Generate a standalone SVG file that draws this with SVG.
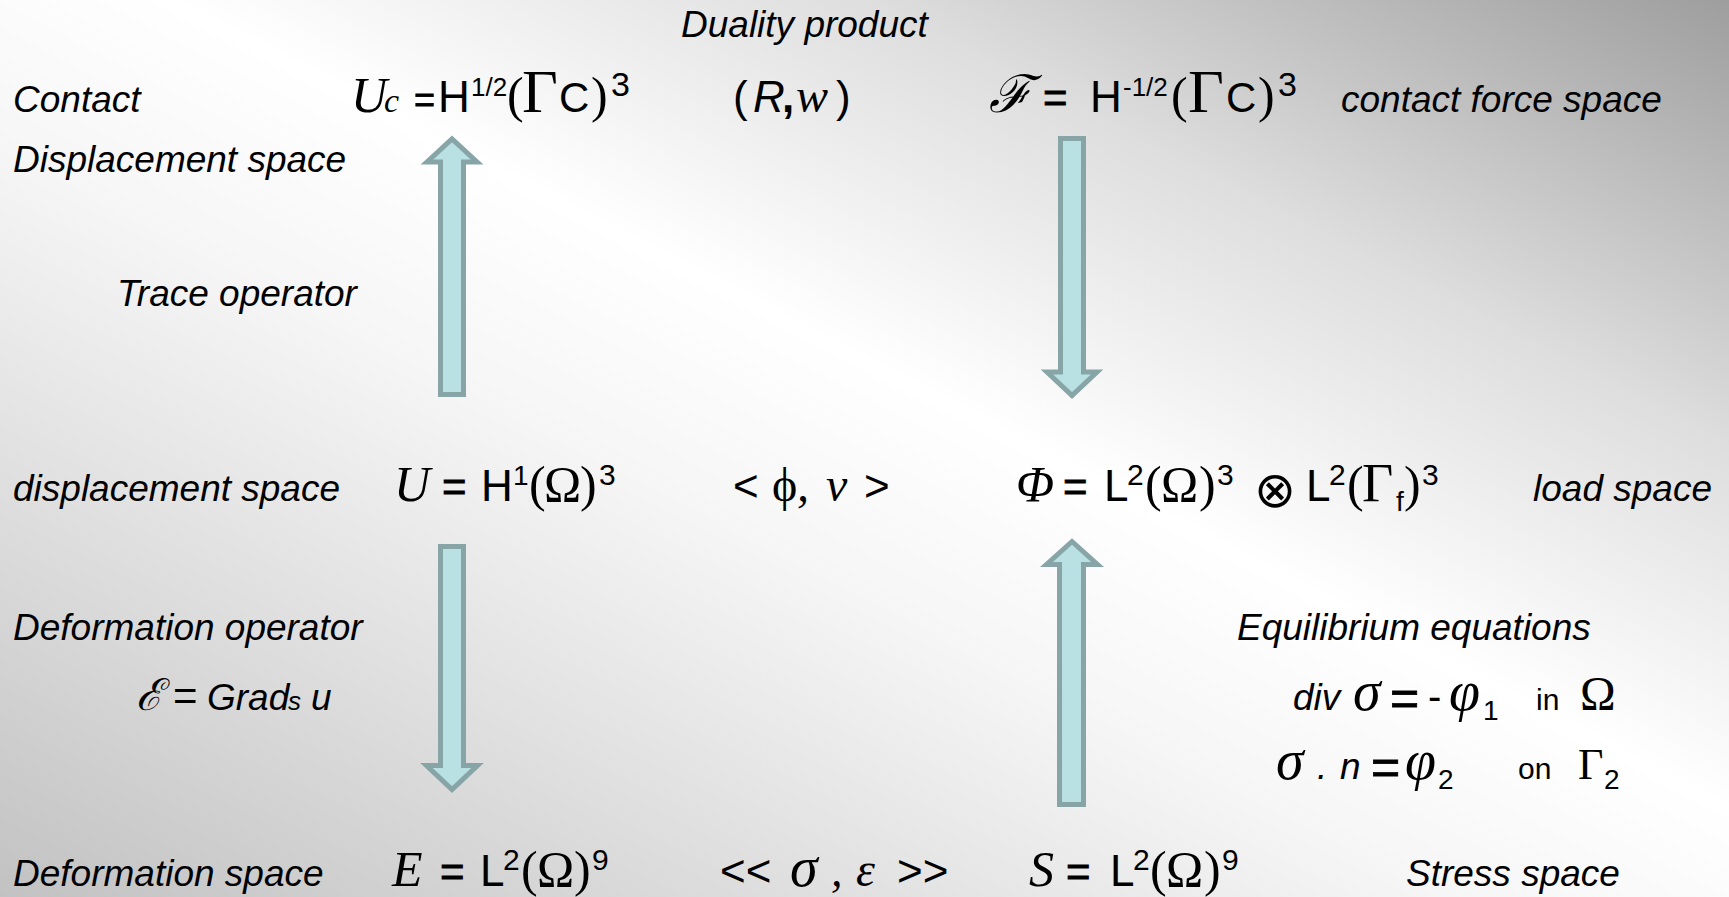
<svg xmlns="http://www.w3.org/2000/svg" width="1729" height="897" viewBox="0 0 1729 897">
<defs>
<linearGradient id="bg" x1="0" y1="1" x2="1" y2="0">
<stop offset="0" stop-color="#c2c2c2"/>
<stop offset="0.42" stop-color="#f6f6f6"/>
<stop offset="0.55" stop-color="#ffffff"/>
<stop offset="0.75" stop-color="#dedede"/>
<stop offset="1" stop-color="#9e9e9e"/>
</linearGradient>
</defs>
<style>
text{fill:#000}
.lbl{font-family:"Liberation Sans",Arial,sans-serif;font-style:italic;font-size:37px}
.ar{font-family:"Liberation Sans",Arial,sans-serif;font-style:normal;font-size:44px}
.eq{font-family:"Liberation Sans",Arial,sans-serif;font-style:normal;font-size:42px;stroke:#000;stroke-width:0.8}
.ti{font-family:"Liberation Serif","Times New Roman",serif;font-style:italic;font-size:50px}
.tr{font-family:"Liberation Serif","Times New Roman",serif;font-style:normal;font-size:50px}
.sup{font-family:"Liberation Sans",Arial,sans-serif;font-style:normal;font-size:30px}
.scr{font-family:"DejaVu Serif","Liberation Serif",serif;font-style:italic;font-size:48px}
.arrow{fill:#b9e0e3;stroke:#87a5a7;stroke-width:5;stroke-linejoin:miter}
</style>
<rect x="0" y="0" width="1729" height="897" fill="url(#bg)"/>

<g id="connectors">
<path class="arrow" d="M440.5,394.5 L463.5,394.5 L463.5,162 L477,162 L452,139 L427,162 L440.5,162 Z"/>
<path class="arrow" d="M1060.5,138.5 L1083.5,138.5 L1083.5,372 L1097,372 L1072,395.5 L1047,372 L1060.5,372 Z"/>
<path class="arrow" d="M440.5,546.5 L463.5,546.5 L463.5,765.5 L477.5,765.5 L452,789.5 L426.5,765.5 L440.5,765.5 Z"/>
<path class="arrow" d="M1059.5,804.5 L1083.5,804.5 L1083.5,564.5 L1097.5,564.5 L1072,541.5 L1046.5,564.5 L1059.5,564.5 Z"/>
</g>

<g id="duality-product"><text class="lbl" x="681" y="37">Duality product</text></g>
<g id="contact-label"><text class="lbl" x="13" y="112">Contact</text></g>
<g id="contact-displacement-label"><text class="lbl" x="13" y="172">Displacement space</text></g>

<g id="space-Uc">
<text y="112"><tspan class="ti" x="351">U</tspan><tspan class="ti" x="384" style="font-size:34px">c</tspan><tspan class="eq" x="414" style="font-size:36px">=</tspan><tspan class="ar" x="438">H</tspan><tspan class="sup" x="471" y="96" style="font-size:26px">1/2</tspan><tspan class="tr" x="507" y="112">(</tspan><tspan class="tr" x="522" style="font-size:62px">Γ</tspan><tspan class="ar" x="559" style="font-size:42px">C</tspan><tspan class="tr" x="591">)</tspan><tspan class="sup" x="611" y="96" style="font-size:34px">3</tspan></text>
</g>

<g id="pair-Rw">
<text y="112"><tspan class="ar" x="733">(</tspan><tspan class="ar" x="753" style="font-style:italic">R</tspan><tspan class="ar" x="782" style="font-weight:bold">,</tspan><tspan class="ti" x="796" style="font-size:48px">w</tspan><tspan class="ar" x="836">)</tspan></text>
</g>

<g id="space-F">
<text y="112"><tspan class="scr" x="989" style="font-size:52px">ℱ</tspan><tspan class="eq" x="1043">=</tspan><tspan class="ar" x="1090">H</tspan><tspan class="sup" x="1123" y="96" style="font-size:26px">-1/2</tspan><tspan class="tr" x="1171" y="112">(</tspan><tspan class="tr" x="1188" style="font-size:62px">Γ</tspan><tspan class="ar" x="1226" style="font-size:42px">C</tspan><tspan class="tr" x="1258">)</tspan><tspan class="sup" x="1278" y="96" style="font-size:34px">3</tspan></text>
</g>
<g id="contact-force-label"><text class="lbl" x="1341" y="112">contact force space</text></g>

<g id="trace-operator"><text class="lbl" x="117" y="306">Trace operator</text></g>

<g id="displacement-label"><text class="lbl" x="13" y="501">displacement space</text></g>
<g id="space-U">
<text y="501"><tspan class="ti" x="394">U</tspan><tspan class="eq" x="442">=</tspan><tspan class="ar" x="481">H</tspan><tspan class="sup" x="513" y="485" style="font-size:28px">1</tspan><tspan class="tr" x="529" y="501">(</tspan><tspan class="tr" x="544">Ω</tspan><tspan class="tr" x="580">)</tspan><tspan class="sup" x="599" y="485">3</tspan></text>
</g>
<g id="pair-phi-v">
<text y="501"><tspan class="ar" x="733">&lt;</tspan><tspan class="tr" x="772" style="font-size:48px">ϕ</tspan><tspan class="ti" x="797" style="font-size:48px">,</tspan><tspan class="ti" x="826" style="font-size:48px">v</tspan><tspan class="ar" x="864">&gt;</tspan></text>
</g>
<g id="space-Phi">
<text y="501"><tspan class="ti" x="1016">Φ</tspan><tspan class="eq" x="1063">=</tspan><tspan class="ar" x="1104">L</tspan><tspan class="sup" x="1127" y="485">2</tspan><tspan class="tr" x="1145" y="501">(</tspan><tspan class="tr" x="1161">Ω</tspan><tspan class="tr" x="1199">)</tspan><tspan class="sup" x="1217" y="485">3</tspan><tspan x="1254" y="507" style="font-family:'DejaVu Sans',sans-serif;font-size:50px">⊗</tspan><tspan class="ar" x="1306" y="501">L</tspan><tspan class="sup" x="1329" y="485">2</tspan><tspan class="tr" x="1347" y="501">(</tspan><tspan class="tr" x="1362" style="font-size:54px">Γ</tspan><tspan class="sup" x="1396" y="511" style="font-size:28px">f</tspan><tspan class="tr" x="1404" y="501">)</tspan><tspan class="sup" x="1422" y="485">3</tspan></text>
</g>
<g id="load-label"><text class="lbl" x="1533" y="501">load space</text></g>

<g id="deformation-operator"><text class="lbl" x="13" y="640">Deformation operator</text></g>
<g id="grads">
<text y="710"><tspan class="scr" x="136" style="font-size:44px">ℰ</tspan><tspan class="ar" x="173" style="font-size:42px">=</tspan><tspan class="lbl" x="207">Grad</tspan><tspan class="lbl" x="288" style="font-size:26px">s</tspan><tspan class="lbl" x="311">u</tspan></text>
</g>

<g id="equilibrium-equations"><text class="lbl" x="1237" y="640">Equilibrium equations</text></g>
<g id="eq-div">
<text y="710"><tspan class="lbl" x="1293">div</tspan><tspan class="ti" x="1353" style="font-size:56px">σ</tspan><tspan class="eq" x="1390" y="715" style="font-size:50px">=</tspan><tspan class="ar" x="1428" y="710" style="font-size:40px">-</tspan><tspan class="ti" x="1449" style="font-size:56px">φ</tspan><tspan class="sup" x="1483" y="720" style="font-size:28px">1</tspan><tspan class="ar" x="1536" y="710" style="font-size:30px">in</tspan><tspan class="tr" x="1580" style="font-size:48px">Ω</tspan></text>
</g>
<g id="eq-sigma-n">
<text y="779"><tspan class="ti" x="1276" style="font-size:56px">σ</tspan><tspan class="lbl" x="1317">.</tspan><tspan class="lbl" x="1340">n</tspan><tspan class="eq" x="1371" y="784" style="font-size:50px">=</tspan><tspan class="ti" x="1405" y="779" style="font-size:56px">φ</tspan><tspan class="sup" x="1438" y="789" style="font-size:28px">2</tspan><tspan class="ar" x="1518" y="779" style="font-size:30px">on</tspan><tspan class="tr" x="1578" style="font-size:44px">Γ</tspan><tspan class="sup" x="1604" y="789" style="font-size:28px">2</tspan></text>
</g>

<g id="deformation-space-label"><text class="lbl" x="13" y="886">Deformation space</text></g>
<g id="space-E">
<text y="886"><tspan class="ti" x="392">E</tspan><tspan class="eq" x="440">=</tspan><tspan class="ar" x="480">L</tspan><tspan class="sup" x="503" y="870">2</tspan><tspan class="tr" x="521" y="886">(</tspan><tspan class="tr" x="537">Ω</tspan><tspan class="tr" x="574">)</tspan><tspan class="sup" x="592" y="870">9</tspan></text>
</g>
<g id="pair-sigma-eps">
<text y="886"><tspan class="ar" x="720">&lt;&lt;</tspan><tspan class="ti" x="790" style="font-size:56px">σ</tspan><tspan class="ti" x="831" style="font-size:46px">,</tspan><tspan class="ti" x="856" style="font-size:48px">ε</tspan><tspan class="ar" x="897">&gt;&gt;</tspan></text>
</g>
<g id="space-S">
<text y="886"><tspan class="ti" x="1029">S</tspan><tspan class="eq" x="1066">=</tspan><tspan class="ar" x="1110">L</tspan><tspan class="sup" x="1133" y="870">2</tspan><tspan class="tr" x="1150" y="886">(</tspan><tspan class="tr" x="1166">Ω</tspan><tspan class="tr" x="1204">)</tspan><tspan class="sup" x="1222" y="870">9</tspan></text>
</g>
<g id="stress-label"><text class="lbl" x="1406" y="886">Stress space</text></g>
</svg>
